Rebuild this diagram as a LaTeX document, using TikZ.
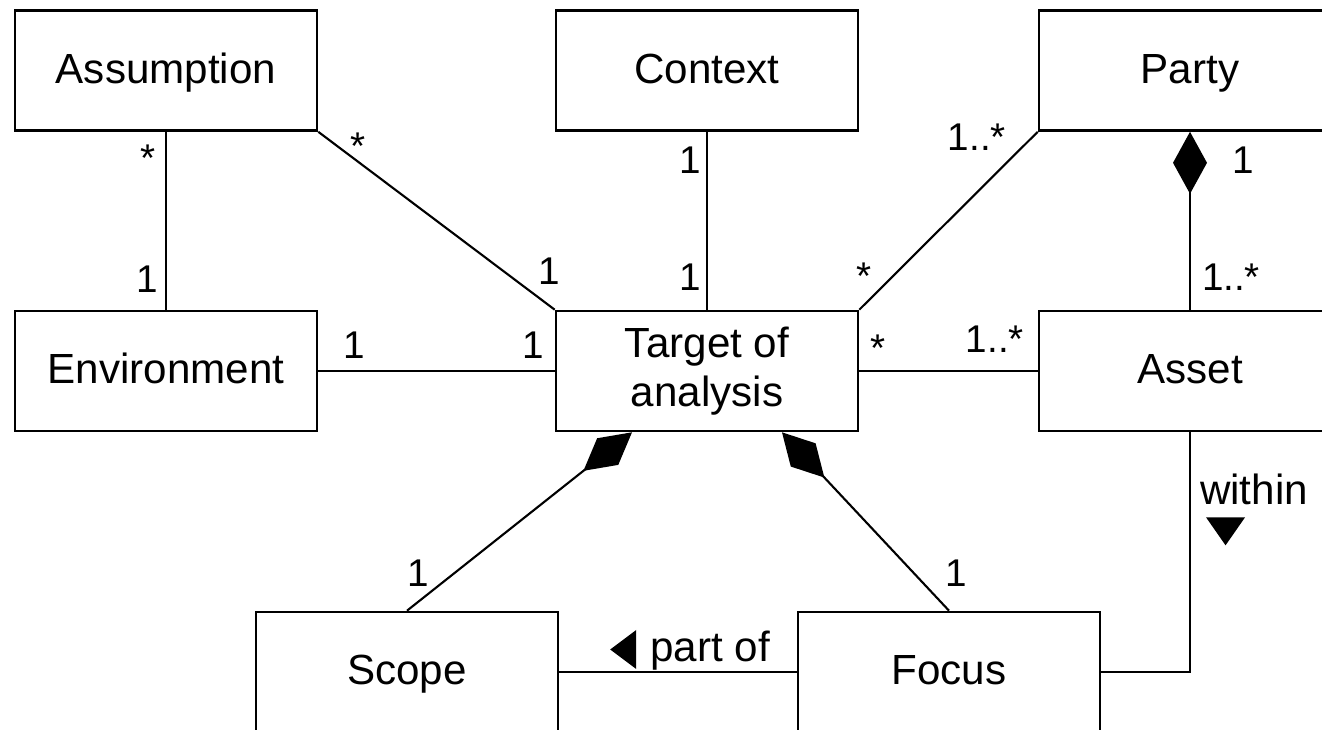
\documentclass[tikz,border=0pt]{standalone}
\usepackage{fontspec}
\setmainfont{Liberation Sans}
\usetikzlibrary{arrows.meta, calc}

\tikzset{
  cls/.style={draw, line width=1.5pt, minimum width=6.04cm, minimum height=2.4cm,
    inner sep=0pt, font=\fontsize{24}{27.5}\selectfont, text height=17.3pt, text depth=2.9pt},
  assoc/.style={line width=1.2pt},
  comp/.style={-{Diamond[length=1.24cm, width=.68cm]}},
  compr/.style={{Diamond[length=1.24cm, width=.68cm]}-},
  mult/.style={inner sep=0pt, font=\fontsize{22}{26}\selectfont},
  role/.style={inner sep=0pt, font=\fontsize{24}{27.5}\selectfont},
}

\begin{document}
\begin{tikzpicture}[x=0.02cm, y=-0.02cm]
  \useasboundingbox (0,0) rectangle (1322,730);
  \clip (0,0) rectangle (1322,730);

  % classes
  \node[cls] (asm) at (166,70.5) {Assumption};
  \node[cls] (ctx) at (707,70.5) {Context};
  \node[cls] (pty) at (1190,70.5) {Party};
  \node[cls] (env) at (166,371) {Environment};
  \node[cls, align=center, text height=44.4pt, text depth=4.5pt] (tgt) at (707,371) {Target of\\analysis};
  \node[cls] (ast) at (1190,371) {Asset};
  \node[cls] (scope) at (407,672) {Scope};
  \node[cls] (focus) at (949,672) {Focus};

  % associations
  \draw[assoc] (asm.south) -- (env.north)
    node[mult, pos=.17, shift={(-18,-4)}] (a1) {*}
    node[mult, pos=.83, shift={(-19,0)}] (a2) {1};
  \draw[assoc] (asm.south east) -- (tgt.north west)
    node[mult, pos=.17, shift={(0,-16)}] (b1) {*}
    node[mult, pos=.9, shift={(18,-21)}] (b2) {1};
  \draw[assoc] (ctx.south) -- (tgt.north)
    node[mult, pos=.16, shift={(-17,0)}] (c1) {1}
    node[mult, pos=.82, shift={(-17,0)}] (c2) {1};
  \draw[assoc] (pty.south west) -- (tgt.north east)
    node[mult, pos=.1, shift={(-43,-12.5)}] (d1) {1..*}
    node[mult, pos=.85, shift={(-22,-7)}] (d2) {*};
  \draw[assoc, compr] (pty.south) -- (ast.north)
    node[mult, pos=.16, shift={(53,0)}] (e1) {1}
    node[mult, pos=.82, shift={(41,0)}] (e2) {1..*};
  \draw[assoc] (env.east) -- (tgt.west)
    node[mult, pos=.15, shift={(0,-26)}] (f1) {1}
    node[mult, pos=.91, shift={(0,-26)}] (f2) {1};
  \draw[assoc] (tgt.east) -- (ast.west)
    node[mult, pos=.1, shift={(1,-23)}] (g1) {*}
    node[mult, pos=.76, shift={(0,-32)}] (g2) {1..*};

  % composition
  \draw[assoc, comp] (scope.north) -- ($(tgt.south)+(-75,0)$)
    node[mult, pos=.15, shift={(-23,-11)}] (h1) {1};
  \draw[assoc, comp] (focus.north) -- ($(tgt.south)+(75,0)$)
    node[mult, pos=.15, shift={(32,-11)}] (k1) {1};

  % named links
  \draw[assoc] (scope.east) -- (focus.west)
    node[role, pos=.635, shift={(0,-21.7)}] (partof) {part of};
  \fill ([shift={(-13,-2)}]partof.south west) -- ++(0,-39) -- ++(-26,19.5) -- cycle;
  \draw[assoc] (ast.south) |- (focus.east)
    node[role, pos=.12, shift={(64,0)}] (within) {within};
  \fill ([shift={(7,11)}]within.south west) -- ++(39,0) -- ++(-19.5,28) -- cycle;
\end{tikzpicture}
\end{document}
